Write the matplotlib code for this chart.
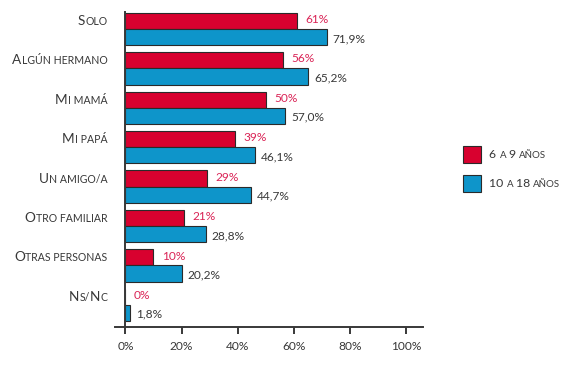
import matplotlib.pyplot as plt
import numpy as np
from matplotlib.offsetbox import TextArea, HPacker, VPacker, DrawingArea, AnnotationBbox, AnchoredOffsetbox
from matplotlib.patches import Rectangle

plt.rcParams['font.family'] = ['Lato', 'DejaVu Sans']

categories = ['Solo', 'Algún hermano', 'Mi mamá', 'Mi papá', 'Un amigo/a',
              'Otro familiar', 'Otras personas', 'Ns/Nc']
young = [61, 56, 50, 39, 29, 21, 10, 0]
older = [71.9, 65.2, 57.0, 46.1, 44.7, 28.8, 20.2, 1.8]
series_names = ['6 a 9 años', '10 a 18 años']
xticks = [0, 20, 40, 60, 80, 100]

RED = '#D8012F'
BLUE = '#0E95CA'
RED_TXT = '#DA2456'
DARK = '#383838'
EDGE = '#2a2a2a'


def smallcaps(text, big=9.8, small=7.6, color=DARK):
    """Fake small caps: lower-case letters drawn as smaller capitals."""
    runs = []
    for ch in text:
        is_small = ch.islower() or (ch in ' /' and bool(runs) and runs[-1][0])
        if runs and runs[-1][0] == is_small:
            runs[-1][1] += ch
        else:
            runs.append([is_small, ch])
    boxes = []
    for is_small, s in runs:
        size = small if is_small else big
        boxes.append(TextArea(s.upper(), textprops=dict(fontsize=size, color=color)))
    return HPacker(children=boxes, pad=0, sep=0, align='baseline')


fig = plt.figure(figsize=(5.64, 3.82), dpi=100)
ax = fig.add_axes([115 / 564, 1 - 327 / 382, 308 / 564, 315 / 382])

y = np.arange(len(categories))
h = 0.41
ax.barh(y - h / 2, young, height=h, color=RED, edgecolor=EDGE, linewidth=0.8)
ax.barh(y + h / 2, older, height=h, color=BLUE, edgecolor=EDGE, linewidth=0.8)

for i, (a, b) in enumerate(zip(young, older)):
    ax.annotate(f'{a:.0f}%', (a, i - h / 2), xytext=(6, 1), textcoords='offset points',
                va='center', ha='left', fontsize=8.6, color=RED_TXT)
    ax.annotate(f'{b:.1f}%'.replace('.', ','), (b, i + h / 2), xytext=(4, -1),
                textcoords='offset points', va='center', ha='left', fontsize=8.6, color=DARK)

for i, cat in enumerate(categories):
    ab = AnnotationBbox(smallcaps(cat), (0, i - h / 2), xybox=(-13, 0), xycoords='data',
                        boxcoords='offset points', box_alignment=(1, 0.5),
                        frameon=False, pad=0, annotation_clip=False)
    ax.add_artist(ab)

ax.set_xlim(-3.7, 106)
ax.set_ylim(7.56, -0.43)
ax.set_xticks(xticks)
ax.set_xticklabels([f'{t}%' for t in xticks], fontsize=8.6, color=DARK)
ax.set_yticks([])
ax.spines['left'].set_position(('data', 0))
for side in ['top', 'right']:
    ax.spines[side].set_visible(False)
for side in ['left', 'bottom']:
    ax.spines[side].set_color(DARK)
    ax.spines[side].set_linewidth(1.4)
ax.tick_params(axis='x', length=5, width=1.4, color=DARK, pad=5)

# legend with small caps text
rows = []
for name, col in zip(series_names, [RED, BLUE]):
    da = DrawingArea(13, 12, 0, 0)
    da.add_artist(Rectangle((0, 0), 13, 12, facecolor=col, edgecolor=EDGE, linewidth=0.8))
    rows.append(HPacker(children=[da, smallcaps(name, big=8.8, small=7.0)],
                        pad=0, sep=6, align='center'))
leg = AnchoredOffsetbox(loc='upper left', child=VPacker(children=rows, pad=0, sep=9, align='left'),
                        frameon=False, pad=0, borderpad=0)
leg.set_bbox_to_anchor((463 / 564, 1 - 146 / 382), transform=fig.transFigure)
fig.add_artist(leg)

fig.savefig('out.png', dpi=100)
